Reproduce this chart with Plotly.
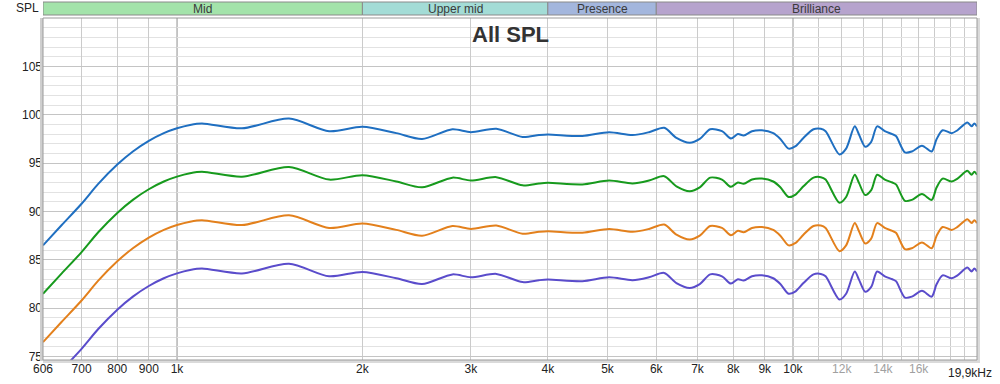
import math
import plotly.graph_objects as go

freqs = [606, 650, 700, 745, 800, 848, 900, 952, 1000, 1050, 1098, 1275, 1520, 1766, 2000, 2270, 2500, 2800, 3000, 3300,
         3640, 3870, 4000, 4550, 5030, 5490, 5840, 6180, 6470, 6800, 7060, 7340, 7670, 7930, 8140,
         8320, 8580, 8900, 9290, 9540, 9840, 10100, 10400, 10800, 11100, 11300, 11900, 12200, 12600, 12800,
         13100, 13400, 13700, 14100, 14500, 14700, 15200, 15600, 16200, 16800, 17100, 17500, 18100, 18500, 19200,
         19500, 19700, 19900]

spl_blue = [86.5, 88.6, 90.8, 92.85, 94.85, 96.2, 97.3, 98.1, 98.6, 98.95, 99.1, 98.6, 99.6, 98.3, 98.75, 98.1, 97.5, 98.5, 98.2, 98.55,
            97.7, 97.9, 97.96, 97.8, 98.2, 97.9, 98.2, 98.65, 97.6, 97.1, 97.5, 98.5, 98.3, 97.55, 98.0,
            97.86, 98.3, 98.4, 98.1, 97.5, 96.5, 96.75, 97.6, 98.5, 98.55, 98.3, 95.9, 96.5, 98.8, 97.96,
            96.7, 97.2, 98.8, 98.3, 98.0, 97.8, 96.1, 96.2, 96.8, 96.2, 97.45, 98.4, 98.1, 98.4, 99.2,
            98.8, 99.1, 98.8]
spl_green = [81.5, 83.6, 85.8, 87.85, 89.85, 91.2, 92.3, 93.1, 93.6, 93.95, 94.1, 93.6, 94.6, 93.3, 93.75, 93.1, 92.5, 93.5, 93.2, 93.55,
             92.7, 92.9, 92.96, 92.8, 93.2, 92.9, 93.2, 93.65, 92.6, 92.1, 92.5, 93.5, 93.3, 92.55, 93.0,
             92.86, 93.3, 93.4, 93.1, 92.5, 91.5, 91.75, 92.6, 93.5, 93.55, 93.3, 90.9, 91.5, 93.8, 92.96,
             91.7, 92.2, 93.8, 93.3, 93.0, 92.8, 91.1, 91.2, 91.8, 91.2, 92.45, 93.4, 93.1, 93.4, 94.2,
             93.8, 94.1, 93.8]
spl_orange = [76.5, 78.6, 80.8, 82.85, 84.85, 86.2, 87.3, 88.1, 88.6, 88.95, 89.1, 88.6, 89.6, 88.3, 88.75, 88.1, 87.5, 88.5, 88.2, 88.55,
              87.7, 87.9, 87.96, 87.8, 88.2, 87.9, 88.2, 88.65, 87.6, 87.1, 87.5, 88.5, 88.3, 87.55, 88.0,
              87.86, 88.3, 88.4, 88.1, 87.5, 86.5, 86.75, 87.6, 88.5, 88.55, 88.3, 85.9, 86.5, 88.8, 87.96,
              86.7, 87.2, 88.8, 88.3, 88.0, 87.8, 86.1, 86.2, 86.8, 86.2, 87.45, 88.4, 88.1, 88.4, 89.2,
              88.8, 89.1, 88.8]
spl_purple = [71.5, 73.6, 75.8, 77.85, 79.85, 81.2, 82.3, 83.1, 83.6, 83.95, 84.1, 83.6, 84.6, 83.3, 83.75, 83.1, 82.5, 83.5, 83.2, 83.55,
              82.7, 82.9, 82.96, 82.8, 83.2, 82.9, 83.2, 83.65, 82.6, 82.1, 82.5, 83.5, 83.3, 82.55, 83.0,
              82.86, 83.3, 83.4, 83.1, 82.5, 81.5, 81.75, 82.6, 83.5, 83.55, 83.3, 80.9, 81.5, 83.8, 82.96,
              81.7, 82.2, 83.8, 83.3, 83.0, 82.8, 81.1, 81.2, 81.8, 81.2, 82.45, 83.4, 83.1, 83.4, 84.2,
              83.8, 84.1, 83.8]

x_tickvals = [606, 700, 800, 900, 1000, 2000, 3000, 4000, 5000, 6000, 7000, 8000, 9000, 10000,
              12000, 14000, 16000, 19900]
x_ticktext = ["606", "700", "800", "900", "1k", "2k", "3k", "4k", "5k", "6k", "7k", "8k", "9k", "10k",
              "12k", "14k", "16k", ""]
x_end_label = "19,9kHz"
x_gray_labels = ["12k", "14k", "16k"]
x_minor_vals = [11000, 13000, 15000, 17000, 18000, 19000]
y_tickvals = [75, 80, 85, 90, 95, 100, 105]

bands = ["Mid", "Upper mid", "Presence", "Brilliance"]
band_edges = [606, 2000, 4000, 6000, 19900]
band_colors = ["#a3e3aa", "#a3dcd6", "#a3b6dd", "#b6a3cd"]

x_min, x_max = 606, 19900
y_min, y_max = 74.65, 110

series = [
    (spl_blue, "#1f6fc1"),
    (spl_green, "#179a1d"),
    (spl_orange, "#e3801c"),
    (spl_purple, "#5a4ccb"),
]

fig = go.Figure()
for vals, col in series:
    fig.add_trace(go.Scatter(x=freqs, y=vals, mode="lines",
                             line=dict(color=col, width=2, shape="spline", smoothing=0.8),
                             hoverinfo="skip", showlegend=False))

ticktext = [f'<span style="color:#a0a0a0">{t}</span>' if t in x_gray_labels else t for t in x_ticktext]

pw, ph = 934.0, 342.0
shapes = []
for v in [1000, 10000]:
    shapes.append(dict(type="line", xref="x", yref="paper", x0=v, x1=v, y0=0, y1=1,
                       line=dict(color="#7d7d7d", width=1), layer="below"))
for i, name in enumerate(bands):
    shapes.append(dict(type="rect", xref="x", yref="paper",
                       x0=band_edges[i], x1=band_edges[i + 1],
                       y0=1 + 3 / ph, y1=1 + 16 / ph,
                       fillcolor=band_colors[i], line=dict(color="#8a8a8a", width=1)))
# soft shadows around the plot frame
shapes.append(dict(type="rect", xref="paper", yref="paper", x0=-3 / pw, x1=0, y0=-1 / ph, y1=1,
                   fillcolor="#cfcfcf", line=dict(width=0)))
shapes.append(dict(type="rect", xref="paper", yref="paper", x0=1, x1=1 + 3 / pw, y0=-3 / ph, y1=1,
                   fillcolor="#dadada", line=dict(width=0)))
shapes.append(dict(type="rect", xref="paper", yref="paper", x0=0, x1=1 + 3 / pw, y0=-3 / ph, y1=0,
                   fillcolor="#dadada", line=dict(width=0)))
shapes.append(dict(type="rect", xref="paper", yref="paper", x0=0, x1=1, y0=0, y1=1,
                   line=dict(color="#9a9a9a", width=1)))

font_family = "Liberation Sans, Arial"
annotations = []
for i, name in enumerate(bands):
    c = (math.log10(band_edges[i]) + math.log10(band_edges[i + 1])) / 2
    annotations.append(dict(x=c, xref="x", y=1 + 9.5 / ph, yref="paper", text=name,
                            showarrow=False, font=dict(family=font_family, size=12, color="#3a3a3a"),
                            xanchor="center", yanchor="middle"))
annotations.append(dict(x=(510 - 43) / pw, xref="paper", y=1 - 17 / ph, yref="paper", text="<b>All SPL</b>",
                        showarrow=False, font=dict(family=font_family, size=22, color="#333333"),
                        xanchor="center", yanchor="middle"))
annotations.append(dict(x=-(43 - 27) / pw, xref="paper", y=1 + 10 / ph, yref="paper", text="SPL",
                        showarrow=False, font=dict(family=font_family, size=12, color="#222222"),
                        xanchor="center", yanchor="middle"))
annotations.append(dict(x=1, xref="paper", xshift=17, y=-12.5 / ph, yref="paper", text=x_end_label,
                        showarrow=False, font=dict(family=font_family, size=12, color="#222222"),
                        xanchor="right", yanchor="middle"))

fig.update_layout(
    width=1000, height=384,
    margin=dict(l=43, r=23, t=18, b=24, autoexpand=False),
    paper_bgcolor="white", plot_bgcolor="white",
    shapes=shapes, annotations=annotations,
    font=dict(family=font_family, size=12, color="#222222"),
    xaxis=dict(type="log", range=[math.log10(x_min), math.log10(x_max)],
               tickmode="array", tickvals=x_tickvals, ticktext=ticktext,
               showgrid=True, gridcolor="#cbcbcb", gridwidth=1,
               minor=dict(tickmode="array", tickvals=x_minor_vals, showgrid=True, gridcolor="#cbcbcb", ticks=""),
               zeroline=False, showline=False, ticks="", tickfont=dict(size=12),
               automargin=False, fixedrange=True),
    yaxis=dict(range=[y_min, y_max], tickmode="array", tickvals=y_tickvals,
               showgrid=True, gridcolor="#c4c4c4", gridwidth=1,
               minor=dict(dtick=1, tick0=75, showgrid=True, gridcolor="#e2e2e2", ticks=""),
               zeroline=False, showline=False, ticks="", tickfont=dict(size=12),
               automargin=False, fixedrange=True),
)

fig.write_html("out.html", config={"displayModeBar": False},
               post_script="document.body.style.margin='0px';document.body.style.padding='0px';document.body.style.overflow='hidden';")
